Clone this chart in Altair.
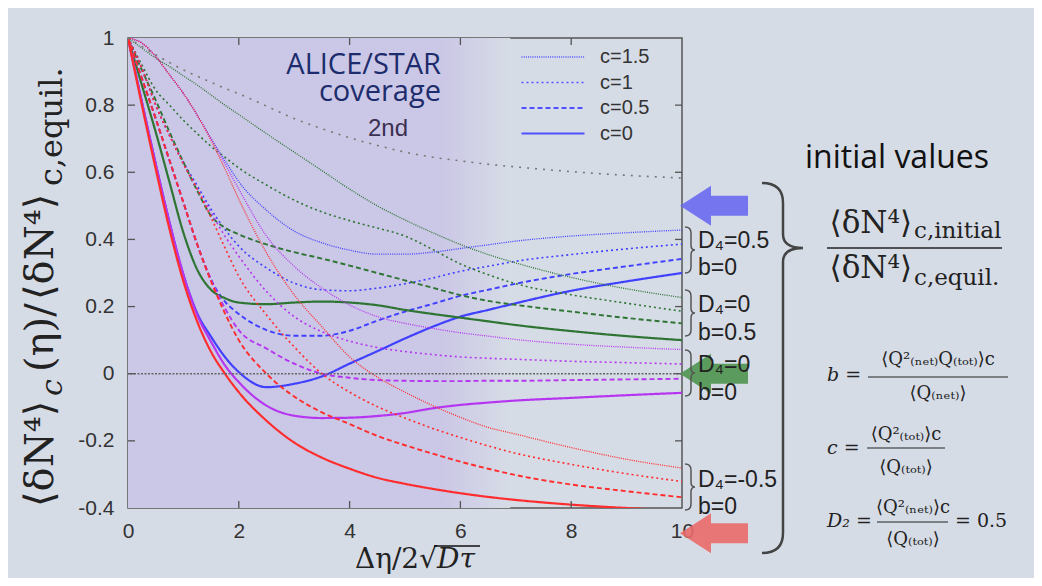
import altair as alt
import pandas as pd

# ---------------- data ----------------
x_grid = [0, 0.25, 0.5, 0.75, 1, 1.25, 1.5, 1.75, 2, 2.5, 3, 3.5, 4, 4.5, 5, 5.5, 6, 6.5, 7, 8, 9, 10]

groups = ["D4=0.5,b=0", "D4=0,b=0.5", "D4=0,b=0", "D4=-0.5,b=0"]
group_colors = ["#4040ff", "#2e7534", "#b535f0", "#ff2d2d"]
c_labels = ["c=1.5", "c=1", "c=0.5", "c=0"]

second_order = [1, .975, .95, .927, .905, .886, .868, .85, .834, .797, .76, .73, .703, .68, .66, .645, .634, .624, .616, .602, .591, .583]

blue_c15 = [1, .985, .945, .89, .835, .77, .70, .635, .572, .487, .425, .39, .368, .356, .356, .362, .373, .384, .395, .41, .42, .428]
blue_c10 = [1, .91, .80, .71, .63, .56, .49, .43, .38, .315, .27, .25, .247, .255, .268, .285, .305, .32, .335, .355, .372, .386]
blue_c05 = [1, .88, .76, .635, .51, .385, .28, .215, .178, .13, .113, .113, .128, .158, .185, .208, .232, .25, .268, .297, .32, .342]
blue_c00 = [1, .81, .625, .45, .295, .18, .11, .05, .005, -.04, -.03, -.008, .03, .067, .105, .14, .17, .19, .21, .247, .275, .30]

green_c15 = [1, .97, .94, .915, .887, .86, .83, .80, .772, .715, .66, .605, .55, .50, .458, .42, .385, .355, .33, .287, .253, .227]
green_c10 = [1, .92, .845, .80, .755, .715, .677, .645, .613, .562, .517, .482, .456, .434, .41, .37, .327, .295, .268, .235, .21, .186]
green_c05 = [1, .905, .815, .72, .63, .545, .47, .435, .415, .385, .362, .343, .322, .30, .278, .256, .234, .217, .205, .185, .166, .15]
green_c00 = [1, .86, .72, .57, .42, .31, .25, .225, .212, .207, .212, .215, .212, .204, .19, .178, .167, .156, .145, .127, .112, .10]

mag_c15 = [1, .985, .945, .89, .835, .77, .70, .625, .55, .41, .32, .255, .205, .17, .15, .135, .122, .112, .102, .088, .079, .072]
mag_c10 = [1, .91, .80, .71, .625, .55, .48, .41, .35, .245, .17, .125, .097, .078, .066, .057, .05, .046, .043, .037, .033, .029]
mag_c05 = [1, .88, .76, .635, .51, .385, .28, .195, .13, .075, .03, .0, -.012, -.019, -.021, -.022, -.022, -.021, -.021, -.019, -.017, -.015]
mag_c00 = [1, .81, .625, .45, .295, .175, .095, .025, -.025, -.095, -.125, -.132, -.131, -.126, -.117, -.103, -.093, -.086, -.08, -.072, -.064, -.057]

red_c15 = [1, .985, .945, .89, .835, .77, .695, .61, .52, .36, .235, .14, .05, -.01, -.055, -.095, -.13, -.16, -.18, -.22, -.255, -.281]
red_c10 = [1, .91, .80, .71, .625, .55, .465, .375, .29, .175, .08, .0, -.055, -.098, -.132, -.163, -.19, -.215, -.237, -.27, -.298, -.321]
red_c05 = [1, .88, .76, .635, .51, .385, .275, .18, .10, .0, -.068, -.115, -.15, -.185, -.213, -.238, -.262, -.283, -.302, -.33, -.35, -.368]
red_c00 = [1, .80, .61, .43, .275, .155, .065, .0, -.055, -.14, -.205, -.25, -.283, -.31, -.328, -.343, -.356, -.367, -.376, -.39, -.40, -.408]

curves = {
    groups[0]: [blue_c15, blue_c10, blue_c05, blue_c00],
    groups[1]: [green_c15, green_c10, green_c05, green_c00],
    groups[2]: [mag_c15, mag_c10, mag_c05, mag_c00],
    groups[3]: [red_c15, red_c10, red_c05, red_c00],
}

coverage = [0, 6.9]
x_tick_values = [0, 2, 4, 6, 8, 10]
y_tick_values = [-0.4, -0.2, 0, 0.2, 0.4, 0.6, 0.8, 1]
inner_x_ticks = [2, 4, 6, 8]
inner_y_ticks = [-0.2, 0, 0.2, 0.4, 0.6, 0.8]
arrow_levels = [0.5, 0.0, -0.475]
arrow_colors = ["#6a6af0", "#4f944f", "#ea6a6a"]

# ---------------- tables ----------------
rows = []
for g in groups:
    for c, ys in zip(c_labels, curves[g]):
        for xv, yv in zip(x_grid, ys):
            rows.append({"x": xv, "y": yv, "group": g, "c": c})
df = pd.DataFrame(rows)
df2 = pd.DataFrame({"x": x_grid, "y": second_order})

W, H = 554, 470
SANS = "Liberation Sans"
SERIF = "DejaVu Serif"
xs = alt.Scale(domain=[0, 10], nice=False, zero=False)
ys = alt.Scale(domain=[-0.4, 1], nice=False, zero=False)
X_AX = alt.Axis(values=x_tick_values, grid=False, ticks=False, domain=False, labelFontSize=21,
                labelFont=SANS, labelColor="#333", labelPadding=12, labelFlush=False, labelOverlap=False,
                title=None)
Y_AX = alt.Axis(values=y_tick_values, grid=False, ticks=False, domain=False, labelFontSize=21,
                labelFont=SANS, labelColor="#333", labelPadding=14, labelFlush=False, labelOverlap=False,
                labelExpr="'' + datum.value", title=None)


def X(field):
    return alt.X(field, scale=xs, axis=X_AX, title=None)


def Y(field):
    return alt.Y(field, scale=ys, axis=Y_AX, title=None)


# coverage shading
cov = alt.Chart(pd.DataFrame({"x0": [coverage[0]], "x1": [coverage[1]]})).mark_rect(
    fill=alt.LinearGradient(gradient="linear", x1=0, x2=1, y1=0, y2=0,
                            stops=[alt.GradientStop(color="#cbc7e6", offset=0),
                                   alt.GradientStop(color="#cbc7e6", offset=0.82),
                                   alt.GradientStop(color="#d6dce6", offset=1)])
).encode(x=X("x0:Q"), x2="x1:Q", y=alt.value(0), y2=alt.value(H))

zero = alt.Chart(pd.DataFrame({"y": [0]})).mark_rule(color="#666", strokeWidth=1.6, strokeDash=[2, 1.5]).encode(
    y=Y("y:Q"))

second = alt.Chart(df2).mark_line(color="#777", strokeWidth=1.6, strokeDash=[2, 6], interpolate="monotone").encode(
    x=X("x:Q"), y=Y("y:Q"))

main = alt.Chart(df).mark_line(clip=True, interpolate="monotone").encode(
    x=X("x:Q"),
    y=Y("y:Q"),
    color=alt.Color("group:N", scale=alt.Scale(domain=groups, range=group_colors), legend=None),
    strokeDash=alt.StrokeDash("c:N", scale=alt.Scale(domain=c_labels, range=[[1, 1.2], [2, 3], [5, 3], [1, 0]]),
                              legend=alt.Legend(orient="none", legendX=392, legendY=9, title=None,
                                                labelFontSize=20, labelFont=SANS, labelColor="#333",
                                                symbolType="stroke", symbolSize=3969, symbolStrokeColor="#5050ff",
                                                symbolStrokeWidth=1.8, clipHeight=20, rowPadding=5.5,
                                                labelOffset=14, padding=0)),
    strokeWidth=alt.StrokeWidth("c:N", scale=alt.Scale(domain=c_labels, range=[1.3, 2.2, 2.0, 1.8]), legend=None),
)

tick_style = dict(color="#555", strokeWidth=1.3)
tb = alt.Chart(pd.DataFrame({"v": inner_x_ticks})).mark_rule(**tick_style).encode(
    x=X("v:Q"), y=alt.value(H), y2=alt.value(H - 7))
tt = alt.Chart(pd.DataFrame({"v": inner_x_ticks})).mark_rule(**tick_style).encode(
    x=X("v:Q"), y=alt.value(0), y2=alt.value(7))
tl = alt.Chart(pd.DataFrame({"v": inner_y_ticks})).mark_rule(**tick_style).encode(
    y=Y("v:Q"), x=alt.value(0), x2=alt.value(7))
tr = alt.Chart(pd.DataFrame({"v": inner_y_ticks})).mark_rule(**tick_style).encode(
    y=Y("v:Q"), x=alt.value(W), x2=alt.value(W - 7))


def label(text, x, y, size, font=SANS, color="#222", align="left", angle=0, style="normal", line_height=None):
    kw = dict(align=align, baseline="alphabetic", fontSize=size, font=font, color=color, angle=angle,
              fontStyle=style)
    if line_height is not None:
        kw.update(lineBreak="\n", lineHeight=line_height)
    return alt.Chart(pd.DataFrame({"t": [text]})).mark_text(**kw).encode(
        x=alt.value(x), y=alt.value(y), text="t:N")


def hline(x1, x2, y, w=1.3, color="#222"):
    return alt.Chart(pd.DataFrame({"k": [0]})).mark_rule(color=color, strokeWidth=w).encode(
        x=alt.value(x1), x2=alt.value(x2), y=alt.value(y))


def shape(path, x, y, stroke="#444", w=2.0):
    return alt.Chart(pd.DataFrame({"k": [0]})).mark_point(
        shape=path, size=4, filled=False, stroke=stroke, strokeWidth=w, opacity=1
    ).encode(x=alt.value(x), y=alt.value(y))


arrow_path = "M 0 0 L 31 -20 L 31 -10 L 68 -10 L 68 10 L 31 10 L 31 20 Z"
arrows = alt.Chart(pd.DataFrame({"v": arrow_levels, "col": arrow_colors})).mark_point(
    shape=arrow_path, size=4, filled=True, opacity=0.9, clip=False
).encode(x=alt.value(552), y=Y("v:Q"),
         fill=alt.Fill("col:N", scale=None), stroke=alt.value(None))

small_brace = "M -4 -23 Q 2 -23 2 -17 L 2 -5 Q 2 0 6 0 Q 2 0 2 5 L 2 17 Q 2 23 -4 23"
big_brace = "M -21 -65 Q 0 -65 0 -45 L 0 -14 Q 0 0 20 0 Q 0 0 0 14 L 0 285 Q 0 305 -21 305"

layers = [cov, main, zero, second, tb, tt, tl, tr, arrows,
          # in-plot annotations
          label("ALICE/STAR\ncoverage", 313, 36, 29, font="Open Sans", color="#1c2c6c", align="right",
                line_height=27),
          label("2nd", 260, 98, 24, color="#3a3050", align="center"),
          # group labels
          shape(small_brace, 561, 212, "#555", 1.5),
          shape(small_brace, 561, 275, "#555", 1.5),
          shape(small_brace, 561, 335, "#555", 1.5),
          shape(small_brace, 561, 449, "#555", 1.5),
          label("D₄=0.5", 570, 210, 23), label("b=0", 570, 237, 23),
          label("D₄=0", 570, 274, 23), label("b=0.5", 570, 302, 23),
          label("D₄=0", 570, 334, 23), label("b=0", 570, 362, 23),
          label("D₄=-0.5", 570, 449, 23), label("b=0", 570, 476, 23),
          shape(big_brace, 655, 210, "#444", 2.5),
          # right side
          label("initial values", 769, 130, 32, font="Open Sans", color="#111", align="center"),
          label("⟨δN⁴⟩", 784, 195, 31, font=SERIF, align="right"),
          label("c,initial", 786, 200, 23, font=SERIF),
          hline(699, 874, 210, 1.5),
          label("⟨δN⁴⟩", 784, 240, 31, font=SERIF, align="right"),
          label("c,equil.", 786, 247, 23, font=SERIF),
          label("b =", 699, 343, 19, font=SERIF, style="italic"),
          label("⟨Q²₍ₙₑₜ₎Q₍ₜₒₜ₎⟩c", 810, 327, 18, font=SERIF, align="center"),
          hline(740, 880, 339, 1.1),
          label("⟨Q₍ₙₑₜ₎⟩", 810, 361, 18, font=SERIF, align="center"),
          label("c =", 699, 416, 19, font=SERIF, style="italic"),
          label("⟨Q²₍ₜₒₜ₎⟩c", 778, 402, 18, font=SERIF, align="center"),
          hline(739, 817, 410, 1.1),
          label("⟨Q₍ₜₒₜ₎⟩", 778, 435, 18, font=SERIF, align="center"),
          label("D₂ =", 699, 489, 19, font=SERIF, style="italic"),
          label("⟨Q²₍ₙₑₜ₎⟩c", 785, 475, 18, font=SERIF, align="center"),
          hline(749, 820, 484, 1.1),
          label("⟨Q₍ₜₒₜ₎⟩", 785, 507, 18, font=SERIF, align="center"),
          label("= 0.5", 827, 489, 19, font=SERIF),
          # axis titles
          label("Δη/2√", 309, 530, 28, font=SERIF, align="right"),
          label("Dτ", 309, 530, 28, font=SERIF, style="italic"),
          hline(306, 352, 508, 1.3, "#111"),
          label("⟨δN⁴⟩", -75, 469, 40, font=SERIF, angle=270),
          label("c", -66, 358, 30, font=SERIF, angle=270, style="italic"),
          label("(η)/", -75, 334, 40, font=SERIF, angle=270),
          label("⟨δN⁴⟩", -75, 262, 40, font=SERIF, angle=270),
          label("c,equil.", -66, 148, 32, font=SERIF, angle=270),
          ]

chart = alt.layer(*layers).properties(
    width=W, height=H,
    padding={"left": 120, "top": 30, "right": 352, "bottom": 70},
    autosize=alt.AutoSizeParams(type="none"),
).configure(background="#d6dce6").configure_view(stroke="#555", strokeWidth=1.5)

chart.save("out.html", embed_options={"renderer": "svg", "actions": False})
